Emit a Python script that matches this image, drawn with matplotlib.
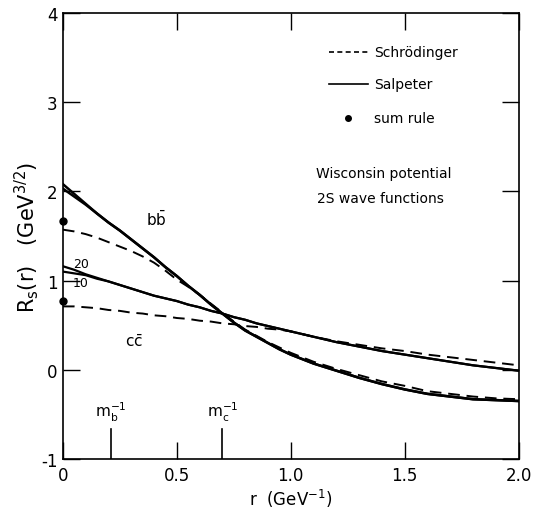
import matplotlib
matplotlib.use("Agg")
import matplotlib.pyplot as plt

plt.rcParams['font.family'] = ['DejaVu Sans']
plt.rcParams['mathtext.fontset'] = 'dejavusans'

# r grid (GeV^-1)
r = [0.0, 0.05, 0.1, 0.15, 0.2, 0.25, 0.3, 0.35, 0.4, 0.45, 0.5, 0.55, 0.6,
     0.65, 0.7, 0.75, 0.8, 0.85, 0.9, 0.95, 1.0, 1.1, 1.2, 1.3, 1.4, 1.5,
     1.6, 1.7, 1.8, 1.9, 2.0]

# b bbar, Salpeter (two cutoffs, differ only near r=0)
bb_salp_20 = [2.08, 1.97, 1.86, 1.75, 1.65, 1.56, 1.46, 1.36, 1.26, 1.15,
              1.05, 0.94, 0.84, 0.73, 0.63, 0.53, 0.44, 0.37, 0.30, 0.23,
              0.17, 0.07, -0.01, -0.09, -0.16, -0.22, -0.27, -0.30, -0.33,
              -0.34, -0.35]
bb_salp_10 = [2.03, 1.94, 1.85, 1.75, 1.65, 1.56, 1.46, 1.36, 1.26, 1.15,
              1.05, 0.94, 0.84, 0.73, 0.63, 0.53, 0.44, 0.37, 0.30, 0.23,
              0.17, 0.07, -0.01, -0.09, -0.16, -0.22, -0.27, -0.30, -0.33,
              -0.34, -0.35]
# b bbar, Schrodinger
bb_schr = [1.57, 1.55, 1.52, 1.48, 1.43, 1.38, 1.33, 1.27, 1.20, 1.11,
           1.01, 0.93, 0.84, 0.74, 0.64, 0.54, 0.45, 0.38, 0.31, 0.25,
           0.19, 0.09, 0.01, -0.06, -0.13, -0.18, -0.24, -0.27, -0.30,
           -0.32, -0.33]
# c cbar, Salpeter
cc_salp_20 = [1.16, 1.12, 1.07, 1.03, 0.99, 0.95, 0.91, 0.87, 0.83, 0.80,
              0.77, 0.73, 0.70, 0.66, 0.63, 0.59, 0.56, 0.52, 0.49, 0.46,
              0.43, 0.37, 0.31, 0.26, 0.21, 0.17, 0.13, 0.09, 0.05, 0.02,
              -0.01]
cc_salp_10 = [1.10, 1.08, 1.06, 1.02, 0.99, 0.95, 0.91, 0.87, 0.83, 0.80,
              0.77, 0.73, 0.70, 0.66, 0.63, 0.59, 0.56, 0.52, 0.49, 0.46,
              0.43, 0.37, 0.31, 0.26, 0.21, 0.17, 0.13, 0.09, 0.05, 0.02,
              -0.01]
# c cbar, Schrodinger
cc_schr = [0.71, 0.71, 0.70, 0.69, 0.67, 0.66, 0.64, 0.63, 0.61, 0.60,
           0.58, 0.57, 0.55, 0.54, 0.52, 0.51, 0.49, 0.48, 0.46, 0.45,
           0.43, 0.37, 0.32, 0.28, 0.24, 0.21, 0.17, 0.14, 0.11, 0.08, 0.05]

# sum rule points at origin
sum_r = [0.0, 0.0]
sum_val = [1.67, 0.77]

# inverse quark masses
m_b_inv = 0.21
m_c_inv = 0.70

fig = plt.figure(figsize=(5.33, 5.10), dpi=100)
ax = fig.add_axes([0.118, 0.098, 0.855, 0.875])

dash = (0, (6, 3.5))
ax.plot(r, bb_salp_20, color='black', lw=1.8)
ax.plot(r, bb_salp_10, color='black', lw=1.8)
ax.plot(r, bb_schr, color='black', lw=1.4, linestyle=dash)
ax.plot(r, cc_salp_20, color='black', lw=1.6)
ax.plot(r, cc_salp_10, color='black', lw=1.6)
ax.plot(r, cc_schr, color='black', lw=1.4, linestyle=dash)
ax.plot(sum_r, sum_val, 'o', color='black', ms=5, clip_on=False, zorder=5)

ax.set_xlim(0, 2.0)
ax.set_ylim(-1, 4)
ax.set_xticks([0, 0.5, 1.0, 1.5, 2.0])
ax.set_xticklabels(['0', '0.5', '1.0', '1.5', '2.0'])
ax.set_yticks([-1, 0, 1, 2, 3, 4])
ax.set_yticklabels(['-1', '0', '1', '2', '3', '4'])
ax.tick_params(direction='in', length=12, width=1.0, labelsize=12,
               top=True, right=True, pad=4)
ax.tick_params(axis='x', pad=5)
for s in ax.spines.values():
    s.set_linewidth(1.2)

# tall marks for the inverse masses
ax.plot([m_b_inv, m_b_inv], [-1, -0.66], color='black', lw=1.2)
ax.plot([m_c_inv, m_c_inv], [-1, -0.66], color='black', lw=1.2)
ax.text(m_b_inv, -0.6, r'$\mathrm{m_b^{-1}}$', ha='center', va='bottom', fontsize=11)
ax.text(m_c_inv, -0.6, r'$\mathrm{m_c^{-1}}$', ha='center', va='bottom', fontsize=11)

ax.text(0.41, 1.70, r'$\mathrm{b\bar{b}}$', ha='center', va='center', fontsize=11)
ax.text(0.31, 0.32, r'$\mathrm{c\bar{c}}$', ha='center', va='center', fontsize=11)
ax.text(0.045, 1.19, '20', ha='left', va='center', fontsize=9)
ax.text(0.045, 0.98, '10', ha='left', va='center', fontsize=9)

# legend drawn by hand
ax.plot([1.17, 1.34], [3.56, 3.56], color='black', lw=1.2, linestyle=(0, (3, 2)))
ax.text(1.365, 3.56, 'Schrödinger', ha='left', va='center', fontsize=10)
ax.plot([1.17, 1.34], [3.2, 3.2], color='black', lw=1.2)
ax.text(1.365, 3.2, 'Salpeter', ha='left', va='center', fontsize=10)
ax.plot([1.25], [2.82], 'o', color='black', ms=4)
ax.text(1.365, 2.82, 'sum rule', ha='left', va='center', fontsize=10)
ax.text(1.11, 2.2, 'Wisconsin potential', ha='left', va='center', fontsize=10)
ax.text(1.115, 1.92, '2S wave functions', ha='left', va='center', fontsize=10)

ax.set_xlabel(r'r  (GeV$^{-1}$)', fontsize=12, labelpad=2)
ax.set_ylabel(r'R$_\mathrm{s}$(r)   (GeV$^{3/2}$)', fontsize=15, labelpad=0)

fig.savefig('out.png', dpi=100)
